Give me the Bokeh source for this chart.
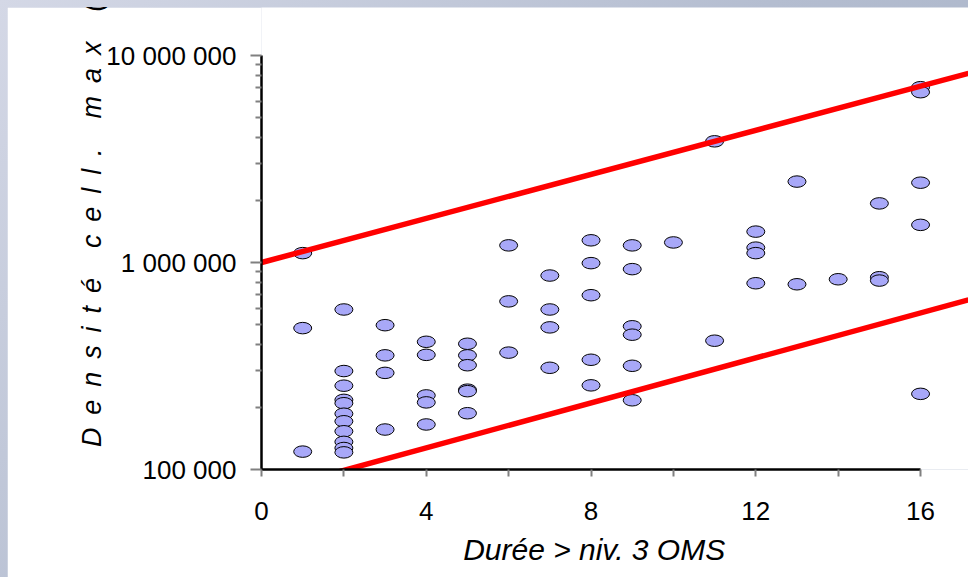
import numpy as np
from bokeh.plotting import figure
from bokeh.models import Range1d, FixedTicker, CustomJSTickFormatter, ColumnDataSource
from bokeh.layouts import column
from bokeh.embed import file_html
from bokeh.resources import INLINE

# ---------------- data ----------------
duree = ([1] * 3 + [2] * 11 + [3] * 4 + [4] * 5 + [5] * 6 + [6] * 3 + [7] * 4 +
         [8] * 5 + [9] * 6 + [10] * 1 + [11] * 2 + [12] * 4 + [13] * 2 + [14] * 1 +
         [15] * 3 + [16] * 5)
densite = [
    1.11e6, 4.82e5, 1.22e5,
    5.93e5, 2.99e5, 2.54e5, 2.17e5, 2.09e5, 1.86e5, 1.71e5, 1.53e5, 1.36e5, 1.27e5, 1.21e5,
    4.98e5, 3.56e5, 2.93e5, 1.56e5,
    4.14e5, 3.58e5, 2.28e5, 2.11e5, 1.65e5,
    4.05e5, 3.56e5, 3.19e5, 2.43e5, 2.39e5, 1.87e5,
    1.21e6, 6.49e5, 3.67e5,
    8.65e5, 5.93e5, 4.86e5, 3.10e5,
    1.28e6, 9.93e5, 6.95e5, 3.39e5, 2.55e5,
    1.21e6, 9.29e5, 4.92e5, 4.48e5, 3.17e5, 2.16e5,
    1.25e6,
    3.85e6, 4.19e5,
    1.41e6, 1.18e6, 1.11e6, 7.94e5,
    2.46e6, 7.85e5,
    8.30e5,
    1.93e6, 8.49e5, 8.18e5,
    7.03e6, 6.65e6, 2.43e6, 1.52e6, 2.32e5,
]

upper_x = [0.0, 17.164]
upper_y = [1.0e6, 8.2e6]
lower_x = [1.54, 17.164]
lower_y = [9.35e4, 6.6e5]

x_ticks = [0, 4, 8, 12, 16]
x_minor = [2, 6, 10, 14]
y_ticks = [1e5, 1e6, 1e7]
y_minor = [m * 10 ** e for e in (5, 6) for m in range(2, 10)]

x_title = "Durée > niv. 3 OMS"
y_title = "Densité cell. max (cell/mL)"

# ---------------- figure ----------------
FONT = "Liberation Sans"
NB = "\u00a0"
THIN = "\u2009"

p = figure(width=961, height=570,
           x_range=Range1d(0, 17.164), y_range=Range1d(1e5, 1.706e7),
           y_axis_type="log", output_backend="svg", toolbar_location=None,
           min_border_left=254, min_border_right=0, min_border_top=0,
           min_border_bottom=108)
p.margin = (7, 0, 0, 7)
p.background_fill_color = "white"
p.border_fill_color = "white"
p.outline_line_color = None
p.xgrid.visible = False
p.ygrid.visible = False

src = ColumnDataSource(dict(x=duree, y=densite))
p.ellipse(x="x", y="y", width=18, height=11.5, width_units="screen",
          height_units="screen", source=src, fill_color="#a8a8f8",
          line_color="black", line_width=1)

p.line(upper_x, upper_y, line_color="#ff0000", line_width=5.5)
p.line(lower_x, lower_y, line_color="#ff0000", line_width=5.5)

fmt = CustomJSTickFormatter(code=r"""
return Math.round(tick).toString().replace(/\B(?=(\d{3})+(?!\d))/g, " ");
""")

xa = p.xaxis[0]
xa.bounds = (0, 16)
xa.ticker = FixedTicker(ticks=x_ticks, minor_ticks=x_minor)
ya = p.yaxis[0]
ya.bounds = (1e5, 1e7)
ya.ticker = FixedTicker(ticks=y_ticks, minor_ticks=y_minor)
ya.formatter = fmt

for ax in (xa, ya):
    ax.axis_line_color = "black"
    ax.axis_line_width = 2.5
    ax.major_tick_line_color = "#808080"
    ax.minor_tick_line_color = "#808080"
    ax.major_tick_line_width = 2
    ax.minor_tick_line_width = 2
    ax.major_tick_in = 0
    ax.minor_tick_in = 0
    ax.major_label_text_font = FONT
    ax.major_label_text_font_size = "26px"
    ax.major_label_text_color = "black"
    ax.axis_label_text_font = FONT
    ax.axis_label_text_font_style = "italic"
    ax.axis_label_text_color = "black"

xa.major_tick_out = 7
xa.minor_tick_out = 7
xa.major_label_standoff = 25
ya.major_tick_out = 11
ya.minor_tick_out = 6
ya.major_label_standoff = 14

# axis titles (padding with no-break spaces shifts the visible text along the axis)
xa.axis_label = x_title + NB * 5
xa.axis_label_text_font_size = "30px"
xa.axis_label_standoff = 10

spaced = (NB * 4).join((NB + THIN).join(list(w)) for w in y_title.split(" "))
ya.axis_label = NB * 30 + spaced
ya.axis_label_text_font_size = "27px"
ya.axis_label_standoff = -4

layout = column(p, styles={"background": "linear-gradient(135deg, #d4d8e6 0%, #b4bdd0 50%, #a4b0c4 100%)"})

open("out.html", "w").write(file_html(layout, INLINE))
